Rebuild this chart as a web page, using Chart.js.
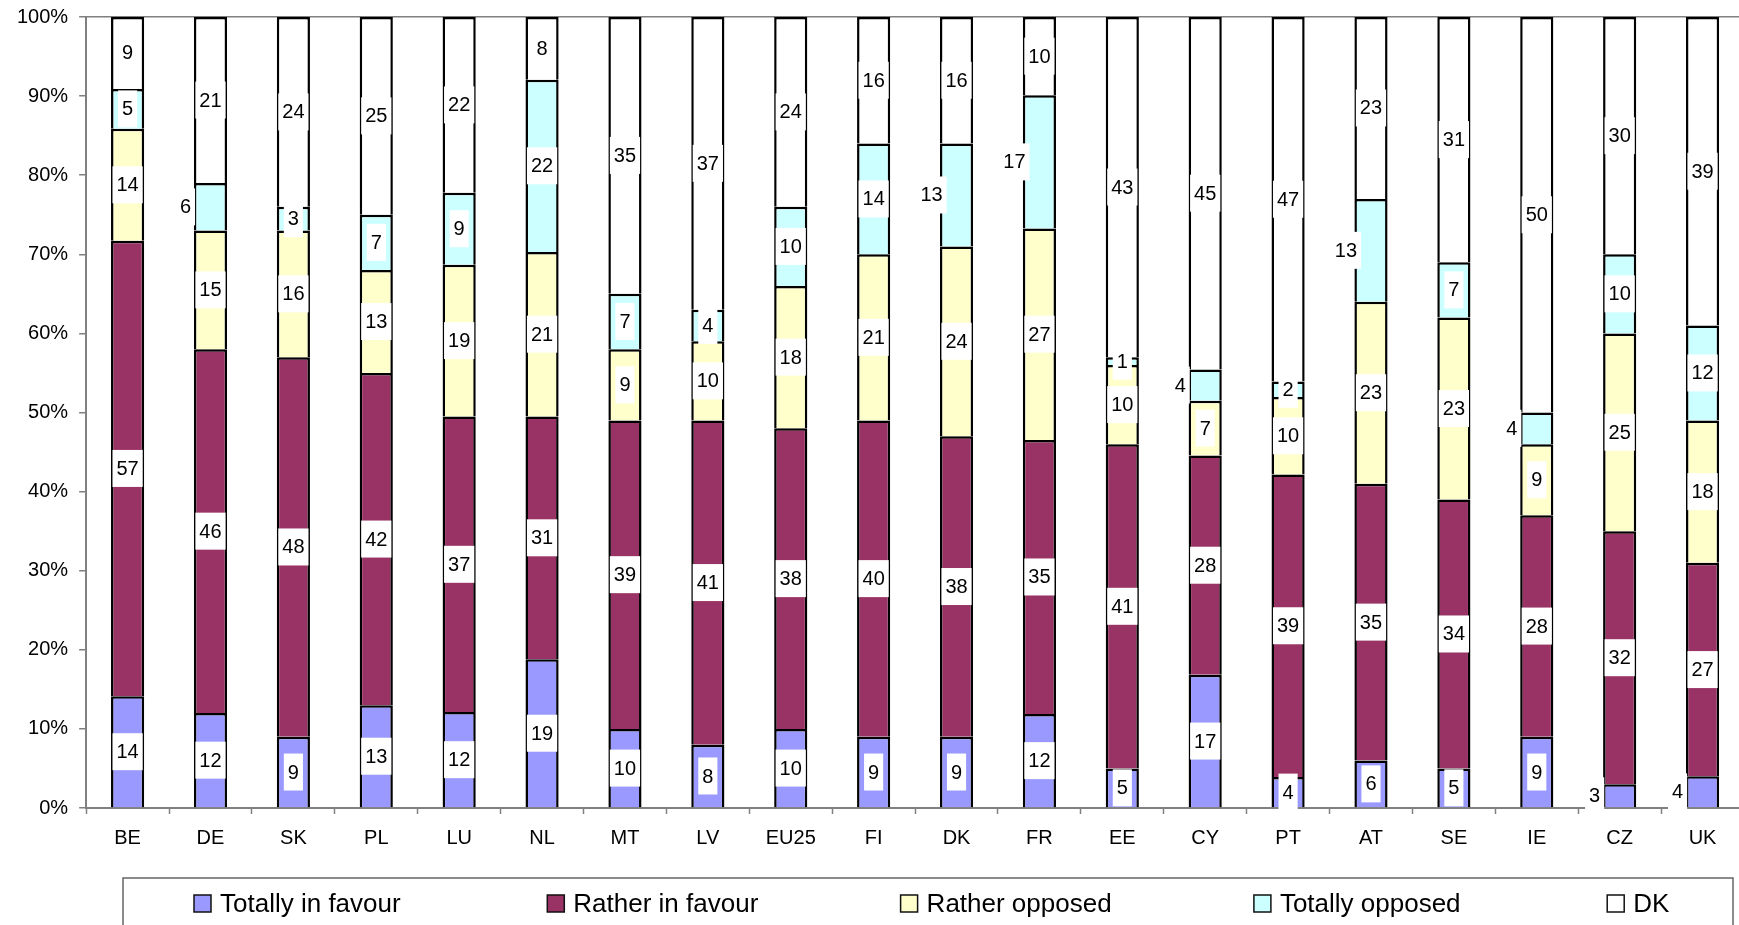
<!DOCTYPE html>
<html>
<head>
<meta charset="utf-8">
<script src="https://cdn.jsdelivr.net/npm/chart.js@4/dist/chart.umd.min.js"></script>
<style>
    html, body { margin: 0; padding: 0; background: #ffffff; overflow: hidden; }
    #wrap { width: 1739px; height: 925px; overflow: hidden; position: relative; }
    canvas { display: block; }
</style>
</head>
<body>
<div id="wrap"><canvas id="opinionChart" width="1760" height="925"></canvas></div>
<script>
/* ==================================================
   100% stacked bars — opinion by country
   ================================================== */

const categories = ['BE', 'DE', 'SK', 'PL', 'LU', 'NL', 'MT', 'LV', 'EU25', 'FI',
                    'DK', 'FR', 'EE', 'CY', 'PT', 'AT', 'SE', 'IE', 'CZ', 'UK'];

const totallyInFavour = [14, 12, 9, 13, 12, 19, 10, 8, 10, 9, 9, 12, 5, 17, 4, 6, 5, 9, 3, 4];
const ratherInFavour  = [57, 46, 48, 42, 37, 31, 39, 41, 38, 40, 38, 35, 41, 28, 39, 35, 34, 28, 32, 27];
const ratherOpposed   = [14, 15, 16, 13, 19, 21, 9, 10, 18, 21, 24, 27, 10, 7, 10, 23, 23, 9, 25, 18];
const totallyOpposed  = [5, 6, 3, 7, 9, 22, 7, 4, 10, 14, 13, 17, 1, 4, 2, 13, 7, 4, 10, 12];
const dontKnow        = [9, 21, 24, 25, 22, 8, 35, 37, 24, 16, 16, 10, 43, 45, 47, 23, 31, 50, 30, 39];

const seriesNames = ['Totally in favour', 'Rather in favour', 'Rather opposed', 'Totally opposed', 'DK'];
const yTicks = [0, 10, 20, 30, 40, 50, 60, 70, 80, 90, 100];

const FONT = '"Liberation Sans", Arial, sans-serif';

// labels Excel pushed to the left of the bar: "datasetIndex:category"
const leftLabels = ['3:DE', '3:DK', '3:FR', '3:CY', '3:AT', '3:IE', '0:CZ', '0:UK'];

const rawSeries = [totallyInFavour, ratherInFavour, ratherOpposed, totallyOpposed, dontKnow];
const colors = ['#9999ff', '#993366', '#ffffcc', '#ccffff', '#ffffff'];

// each bar fills 100%, so scale the answers by the country total
const totals = categories.map((c, i) => rawSeries.reduce((s, arr) => s + arr[i], 0));

const datasets = rawSeries.map((arr, k) => ({
    label: seriesNames[k],
    data: arr.map((v, i) => v / totals[i] * 100),
    raw: arr,
    backgroundColor: colors[k],
    borderColor: '#000000',
    borderWidth: 2.5,
    barPercentage: 0.4,
    categoryPercentage: 1.0
}));

/**
 * value labels in white boxes
 */
const valueLabels = {
    id: 'valueLabels',
    afterDatasetsDraw(chart) {
        const ctx = chart.ctx;
        ctx.save();
        ctx.font = '20px ' + FONT;
        ctx.textAlign = 'center';
        ctx.textBaseline = 'middle';
        chart.data.datasets.forEach((ds, k) => {
            const meta = chart.getDatasetMeta(k);
            meta.data.forEach((bar, i) => {
                const text = String(ds.raw[i]);
                let x = bar.x;
                if (leftLabels.includes(k + ':' + categories[i])) x -= 25;
                const y = (bar.y + bar.base) / 2;
                const w = ctx.measureText(text).width + 8;
                const h = 37;
                ctx.fillStyle = '#ffffff';
                ctx.fillRect(x - w / 2, y - h / 2, w, h);
                ctx.fillStyle = '#000000';
                ctx.fillText(text, x, y + 1);
            });
        });
        ctx.restore();
    }
};

/**
 * boxed legend at the bottom (fixed columns like Excel)
 */
const boxLegend = {
    id: 'boxLegend',
    afterDraw(chart) {
        const ctx = chart.ctx;
        ctx.save();
        ctx.strokeStyle = '#666666';
        ctx.lineWidth = 1.5;
        ctx.strokeRect(123, 878, 1610, 80);

        ctx.font = '26px ' + FONT;
        ctx.textAlign = 'left';
        ctx.textBaseline = 'alphabetic';
        chart.data.datasets.forEach((ds, k) => {
            const x = 194 + k * 353.3;
            ctx.fillStyle = ds.backgroundColor;
            ctx.fillRect(x, 895, 17, 17);
            ctx.strokeStyle = '#111111';
            ctx.lineWidth = 1.5;
            ctx.strokeRect(x, 895, 17, 17);
            ctx.fillStyle = '#000000';
            ctx.fillText(ds.label, x + 26, 912);
        });
        ctx.restore();
    }
};

const ctx = document.getElementById('opinionChart').getContext('2d');
new Chart(ctx, {
    type: 'bar',
    data: {
        labels: categories,
        datasets: datasets
    },
    options: {
        responsive: false,
        animation: false,
        layout: {
            padding: { top: 17, bottom: 63, left: 17, right: 16 }
        },
        plugins: {
            legend: { display: false },
            tooltip: { enabled: false }
        },
        scales: {
            x: {
                stacked: true,
                grid: {
                    offset: true,
                    drawOnChartArea: false,
                    tickLength: 6,
                    tickColor: '#808080',
                    tickWidth: 1.5
                },
                border: { color: '#808080', width: 2 },
                ticks: {
                    color: '#000000',
                    padding: 12,
                    font: { family: FONT, size: 20 },
                    maxRotation: 0,
                    autoSkip: false
                }
            },
            y: {
                stacked: true,
                min: 0,
                max: 100,
                afterBuildTicks: axis => { axis.ticks = yTicks.map(v => ({ value: v })); },
                grid: {
                    // only the top edge of the plot is drawn
                    color: c => (c.tick && c.tick.value === 100) ? '#808080' : 'rgba(0,0,0,0)',
                    lineWidth: 1.5,
                    // long tick keeps the label gap, dash shows only the 6px next to the axis
                    tickLength: 18,
                    tickBorderDash: [0, 11, 7, 1000],
                    tickColor: '#808080',
                    tickWidth: 1.5
                },
                border: { color: '#808080', width: 2 },
                ticks: {
                    color: '#000000',
                    padding: 0,
                    font: { family: FONT, size: 20, lineHeight: 1 },
                    callback: v => v + '%'
                }
            }
        }
    },
    plugins: [valueLabels, boxLegend]
});
</script>
</body>
</html>
